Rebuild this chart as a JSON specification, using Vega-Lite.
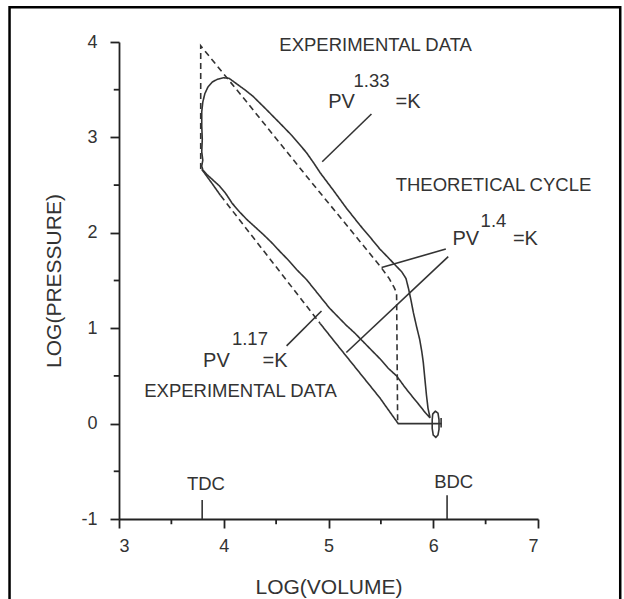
{
  "$schema": "https://vega.github.io/schema/vega-lite/v6.json",
  "autosize": "none",
  "width": 419,
  "height": 477,
  "padding": {"left": 119, "top": 42, "right": 86, "bottom": 80},
  "background": "white",
  "config": {
    "view": {"stroke": null},
    "font": "Liberation Sans",
    "axis": {
      "domainColor": "#222", "domainWidth": 1.8,
      "tickColor": "#222", "tickWidth": 1.8,
      "labelFont": "Liberation Sans", "labelFontSize": 18, "labelColor": "#333",
      "titleFont": "Liberation Sans", "titleFontSize": 21, "titleFontWeight": "normal", "titleColor": "#333",
      "grid": false
    }
  },
  "datasets": {
    "curves": [
      {"seg": "loop", "kind": "measured", "i": 0, "x": 5.97, "y": 0.06},
      {"seg": "loop", "kind": "measured", "i": 1, "x": 5.92, "y": 0.12},
      {"seg": "loop", "kind": "measured", "i": 2, "x": 5.87, "y": 0.19},
      {"seg": "loop", "kind": "measured", "i": 3, "x": 5.81, "y": 0.27},
      {"seg": "loop", "kind": "measured", "i": 4, "x": 5.73, "y": 0.38},
      {"seg": "loop", "kind": "measured", "i": 5, "x": 5.65, "y": 0.5},
      {"seg": "loop", "kind": "measured", "i": 6, "x": 5.57, "y": 0.58},
      {"seg": "loop", "kind": "measured", "i": 7, "x": 5.5, "y": 0.67},
      {"seg": "loop", "kind": "measured", "i": 8, "x": 5.41, "y": 0.77},
      {"seg": "loop", "kind": "measured", "i": 9, "x": 5.33, "y": 0.86},
      {"seg": "loop", "kind": "measured", "i": 10, "x": 5.25, "y": 0.95},
      {"seg": "loop", "kind": "measured", "i": 11, "x": 5.17, "y": 1.03},
      {"seg": "loop", "kind": "measured", "i": 12, "x": 5.09, "y": 1.12},
      {"seg": "loop", "kind": "measured", "i": 13, "x": 5.01, "y": 1.21},
      {"seg": "loop", "kind": "measured", "i": 14, "x": 4.9, "y": 1.36},
      {"seg": "loop", "kind": "measured", "i": 15, "x": 4.79, "y": 1.51},
      {"seg": "loop", "kind": "measured", "i": 16, "x": 4.7, "y": 1.61},
      {"seg": "loop", "kind": "measured", "i": 17, "x": 4.62, "y": 1.71},
      {"seg": "loop", "kind": "measured", "i": 18, "x": 4.54, "y": 1.8},
      {"seg": "loop", "kind": "measured", "i": 19, "x": 4.455, "y": 1.9},
      {"seg": "loop", "kind": "measured", "i": 20, "x": 4.38, "y": 1.98},
      {"seg": "loop", "kind": "measured", "i": 21, "x": 4.3, "y": 2.06},
      {"seg": "loop", "kind": "measured", "i": 22, "x": 4.22, "y": 2.14},
      {"seg": "loop", "kind": "measured", "i": 23, "x": 4.15, "y": 2.22},
      {"seg": "loop", "kind": "measured", "i": 24, "x": 4.08, "y": 2.31},
      {"seg": "loop", "kind": "measured", "i": 25, "x": 4.02, "y": 2.41},
      {"seg": "loop", "kind": "measured", "i": 26, "x": 3.96, "y": 2.49},
      {"seg": "loop", "kind": "measured", "i": 27, "x": 3.9, "y": 2.55},
      {"seg": "loop", "kind": "measured", "i": 28, "x": 3.84, "y": 2.61},
      {"seg": "loop", "kind": "measured", "i": 29, "x": 3.8, "y": 2.66},
      {"seg": "loop", "kind": "measured", "i": 30, "x": 3.79, "y": 2.7},
      {"seg": "loop", "kind": "measured", "i": 31, "x": 3.8, "y": 2.76},
      {"seg": "loop", "kind": "measured", "i": 32, "x": 3.79, "y": 2.85},
      {"seg": "loop", "kind": "measured", "i": 33, "x": 3.795, "y": 2.98},
      {"seg": "loop", "kind": "measured", "i": 34, "x": 3.79, "y": 3.12},
      {"seg": "loop", "kind": "measured", "i": 35, "x": 3.79, "y": 3.27},
      {"seg": "loop", "kind": "measured", "i": 36, "x": 3.8, "y": 3.37},
      {"seg": "loop", "kind": "measured", "i": 37, "x": 3.82, "y": 3.46},
      {"seg": "loop", "kind": "measured", "i": 38, "x": 3.85, "y": 3.53},
      {"seg": "loop", "kind": "measured", "i": 39, "x": 3.89, "y": 3.58},
      {"seg": "loop", "kind": "measured", "i": 40, "x": 3.94, "y": 3.61},
      {"seg": "loop", "kind": "measured", "i": 41, "x": 4.0, "y": 3.625},
      {"seg": "loop", "kind": "measured", "i": 42, "x": 4.05, "y": 3.62},
      {"seg": "loop", "kind": "measured", "i": 43, "x": 4.1, "y": 3.58},
      {"seg": "loop", "kind": "measured", "i": 44, "x": 4.2, "y": 3.5},
      {"seg": "loop", "kind": "measured", "i": 45, "x": 4.28, "y": 3.43},
      {"seg": "loop", "kind": "measured", "i": 46, "x": 4.4, "y": 3.3},
      {"seg": "loop", "kind": "measured", "i": 47, "x": 4.535, "y": 3.15},
      {"seg": "loop", "kind": "measured", "i": 48, "x": 4.65, "y": 3.02},
      {"seg": "loop", "kind": "measured", "i": 49, "x": 4.72, "y": 2.93},
      {"seg": "loop", "kind": "measured", "i": 50, "x": 4.79, "y": 2.84},
      {"seg": "loop", "kind": "measured", "i": 51, "x": 4.86, "y": 2.73},
      {"seg": "loop", "kind": "measured", "i": 52, "x": 4.92, "y": 2.63},
      {"seg": "loop", "kind": "measured", "i": 53, "x": 5.05, "y": 2.44},
      {"seg": "loop", "kind": "measured", "i": 54, "x": 5.17, "y": 2.26},
      {"seg": "loop", "kind": "measured", "i": 55, "x": 5.3, "y": 2.08},
      {"seg": "loop", "kind": "measured", "i": 56, "x": 5.4, "y": 1.95},
      {"seg": "loop", "kind": "measured", "i": 57, "x": 5.49, "y": 1.83},
      {"seg": "loop", "kind": "measured", "i": 58, "x": 5.57, "y": 1.74},
      {"seg": "loop", "kind": "measured", "i": 59, "x": 5.63, "y": 1.67},
      {"seg": "loop", "kind": "measured", "i": 60, "x": 5.7, "y": 1.59},
      {"seg": "loop", "kind": "measured", "i": 61, "x": 5.74, "y": 1.52},
      {"seg": "loop", "kind": "measured", "i": 62, "x": 5.765, "y": 1.41},
      {"seg": "loop", "kind": "measured", "i": 63, "x": 5.79, "y": 1.28},
      {"seg": "loop", "kind": "measured", "i": 64, "x": 5.81, "y": 1.165},
      {"seg": "loop", "kind": "measured", "i": 65, "x": 5.84, "y": 1.02},
      {"seg": "loop", "kind": "measured", "i": 66, "x": 5.87, "y": 0.885},
      {"seg": "loop", "kind": "measured", "i": 67, "x": 5.89, "y": 0.76},
      {"seg": "loop", "kind": "measured", "i": 68, "x": 5.905, "y": 0.64},
      {"seg": "loop", "kind": "measured", "i": 69, "x": 5.92, "y": 0.47},
      {"seg": "loop", "kind": "measured", "i": 70, "x": 5.935, "y": 0.3},
      {"seg": "loop", "kind": "measured", "i": 71, "x": 5.95, "y": 0.16},
      {"seg": "loop", "kind": "measured", "i": 72, "x": 5.97, "y": 0.06},
      {"seg": "oval", "kind": "measured", "i": 0, "x": 5.99, "y": 0.04},
      {"seg": "oval", "kind": "measured", "i": 1, "x": 5.995, "y": 0.1},
      {"seg": "oval", "kind": "measured", "i": 2, "x": 6.02, "y": 0.13},
      {"seg": "oval", "kind": "measured", "i": 3, "x": 6.045, "y": 0.11},
      {"seg": "oval", "kind": "measured", "i": 4, "x": 6.055, "y": 0.04},
      {"seg": "oval", "kind": "measured", "i": 5, "x": 6.055, "y": -0.06},
      {"seg": "oval", "kind": "measured", "i": 6, "x": 6.045, "y": -0.12},
      {"seg": "oval", "kind": "measured", "i": 7, "x": 6.025, "y": -0.145},
      {"seg": "oval", "kind": "measured", "i": 8, "x": 6.0, "y": -0.12},
      {"seg": "oval", "kind": "measured", "i": 9, "x": 5.99, "y": -0.05},
      {"seg": "oval", "kind": "measured", "i": 10, "x": 5.99, "y": 0.04},
      {"seg": "endtick", "kind": "measured", "i": 0, "x": 6.075, "y": 0.06},
      {"seg": "endtick", "kind": "measured", "i": 1, "x": 6.075, "y": -0.04},
      {"seg": "ll1", "kind": "measured", "i": 0, "x": 3.79, "y": 2.665},
      {"seg": "ll1", "kind": "measured", "i": 1, "x": 3.88, "y": 2.53},
      {"seg": "ll1", "kind": "measured", "i": 2, "x": 3.97, "y": 2.39},
      {"seg": "ll2", "kind": "measured", "i": 0, "x": 4.92, "y": 1.05},
      {"seg": "ll2", "kind": "measured", "i": 1, "x": 5.05, "y": 0.87},
      {"seg": "ll2", "kind": "measured", "i": 2, "x": 5.27, "y": 0.57},
      {"seg": "ll2", "kind": "measured", "i": 3, "x": 5.49, "y": 0.27},
      {"seg": "ll2", "kind": "measured", "i": 4, "x": 5.6, "y": 0.1},
      {"seg": "ll2", "kind": "measured", "i": 5, "x": 5.665, "y": 0.0},
      {"seg": "ll2", "kind": "measured", "i": 6, "x": 6.08, "y": 0.0},
      {"seg": "t1", "kind": "theoretical", "i": 0, "x": 3.78, "y": 2.67},
      {"seg": "t1", "kind": "theoretical", "i": 1, "x": 3.78, "y": 3.96},
      {"seg": "t1", "kind": "theoretical", "i": 2, "x": 4.22, "y": 3.37},
      {"seg": "t1", "kind": "theoretical", "i": 3, "x": 4.8, "y": 2.58},
      {"seg": "t1", "kind": "theoretical", "i": 4, "x": 5.3, "y": 1.91},
      {"seg": "t1", "kind": "theoretical", "i": 5, "x": 5.5, "y": 1.64},
      {"seg": "t1", "kind": "theoretical", "i": 6, "x": 5.58, "y": 1.52},
      {"seg": "t1", "kind": "theoretical", "i": 7, "x": 5.625, "y": 1.43},
      {"seg": "t1", "kind": "theoretical", "i": 8, "x": 5.65, "y": 1.37},
      {"seg": "t1", "kind": "theoretical", "i": 9, "x": 5.655, "y": 0.7},
      {"seg": "t1", "kind": "theoretical", "i": 10, "x": 5.66, "y": 0.02},
      {"seg": "t2", "kind": "theoretical", "i": 0, "x": 3.97, "y": 2.39},
      {"seg": "t2", "kind": "theoretical", "i": 1, "x": 4.92, "y": 1.05}
    ],
    "leaders": [
      {"x": 5.41, "y": 3.245, "x2": 4.94, "y2": 2.745},
      {"x": 6.12, "y": 1.83, "x2": 5.507, "y2": 1.636},
      {"x": 6.143, "y": 1.75, "x2": 5.17, "y2": 0.745},
      {"x": 4.6, "y": 0.815, "x2": 4.933, "y2": 1.18},
      {"x": 3.794, "y": -1, "x2": 3.794, "y2": -0.8},
      {"x": 6.132, "y": -1, "x2": 6.132, "y2": -0.75}
    ],
    "labels": [
      {"x": 5.45, "y": 3.97, "text": "EXPERIMENTAL DATA"},
      {"x": 6.575, "y": 2.505, "text": "THEORETICAL CYCLE"},
      {"x": 4.16, "y": 0.343, "text": "EXPERIMENTAL DATA"},
      {"x": 5.41, "y": 3.59, "text": "1.33"},
      {"x": 6.575, "y": 2.125, "text": "1.4"},
      {"x": 4.25, "y": 0.885, "text": "1.17"},
      {"x": 3.83, "y": -0.635, "text": "TDC"},
      {"x": 6.195, "y": -0.617, "text": "BDC"}
    ],
    "formula": [
      {"x": 5.124, "y": 3.374, "text": "PV"},
      {"x": 5.76, "y": 3.374, "text": "=K"},
      {"x": 6.31, "y": 1.933, "text": "PV"},
      {"x": 6.88, "y": 1.933, "text": "=K"},
      {"x": 3.93, "y": 0.66, "text": "PV"},
      {"x": 4.49, "y": 0.66, "text": "=K"}
    ],
    "minorX": [{"v": 3.5}, {"v": 4.5}, {"v": 5.5}, {"v": 6.5}],
    "minorY": [{"v": -0.5}, {"v": 0.5}, {"v": 1.5}, {"v": 2.5}, {"v": 3.5}]
  },
  "layer": [
    {
      "data": {"name": "curves"},
      "mark": {"type": "line", "color": "#333", "strokeWidth": 1.6},
      "encoding": {
        "x": {"field": "x", "type": "quantitative",
          "scale": {"domain": [3, 7], "nice": false, "zero": false},
          "axis": {"values": [3, 4, 5, 6, 7], "tickSize": 9, "labelPadding": 9, "title": "LOG(VOLUME)", "titlePadding": 21, "labelExpr": "'' + datum.value"}},
        "y": {"field": "y", "type": "quantitative",
          "scale": {"domain": [-1, 4], "nice": false, "zero": false},
          "axis": {"values": [-1, 0, 1, 2, 3, 4], "tickSize": 9, "labelPadding": 13, "title": "LOG(PRESSURE)", "titlePadding": 16, "labelExpr": "'' + datum.value"}},
        "order": {"field": "i", "type": "quantitative"},
        "detail": {"field": "seg", "type": "nominal"},
        "strokeDash": {"field": "kind", "type": "nominal",
          "scale": {"domain": ["measured", "theoretical"], "range": [[1, 0], [6, 4]]}, "legend": null}
      }
    },
    {
      "data": {"name": "leaders"},
      "mark": {"type": "rule", "color": "#333", "strokeWidth": 1.6},
      "encoding": {
        "x": {"field": "x", "type": "quantitative"},
        "y": {"field": "y", "type": "quantitative"},
        "x2": {"field": "x2"},
        "y2": {"field": "y2"}
      }
    },
    {
      "data": {"name": "minorX"},
      "mark": {"type": "rule", "color": "#222", "strokeWidth": 1.8},
      "encoding": {
        "x": {"field": "v", "type": "quantitative"},
        "y": {"datum": -1, "type": "quantitative"},
        "y2": {"datum": -1.055}
      }
    },
    {
      "data": {"name": "minorY"},
      "mark": {"type": "rule", "color": "#222", "strokeWidth": 1.8},
      "encoding": {
        "y": {"field": "v", "type": "quantitative"},
        "x": {"datum": 3, "type": "quantitative"},
        "x2": {"datum": 2.95}
      }
    },
    {
      "data": {"name": "labels"},
      "mark": {"type": "text", "font": "Liberation Sans", "fontSize": 18.5, "color": "#333", "align": "center", "baseline": "middle"},
      "encoding": {
        "x": {"field": "x", "type": "quantitative"},
        "y": {"field": "y", "type": "quantitative"},
        "text": {"field": "text"}
      }
    },
    {
      "data": {"name": "formula"},
      "mark": {"type": "text", "font": "Liberation Sans", "fontSize": 20, "color": "#333", "align": "center", "baseline": "middle"},
      "encoding": {
        "x": {"field": "x", "type": "quantitative"},
        "y": {"field": "y", "type": "quantitative"},
        "text": {"field": "text"}
      }
    },
    {
      "data": {"values": [{}]},
      "mark": {"type": "rect", "fill": null, "stroke": "black", "strokeWidth": 2.5},
      "encoding": {
        "x": {"datum": 1.955, "type": "quantitative"},
        "x2": {"datum": 7.785},
        "y": {"datum": 4.365, "type": "quantitative"},
        "y2": {"datum": -1.95}
      }
    }
  ]
}
